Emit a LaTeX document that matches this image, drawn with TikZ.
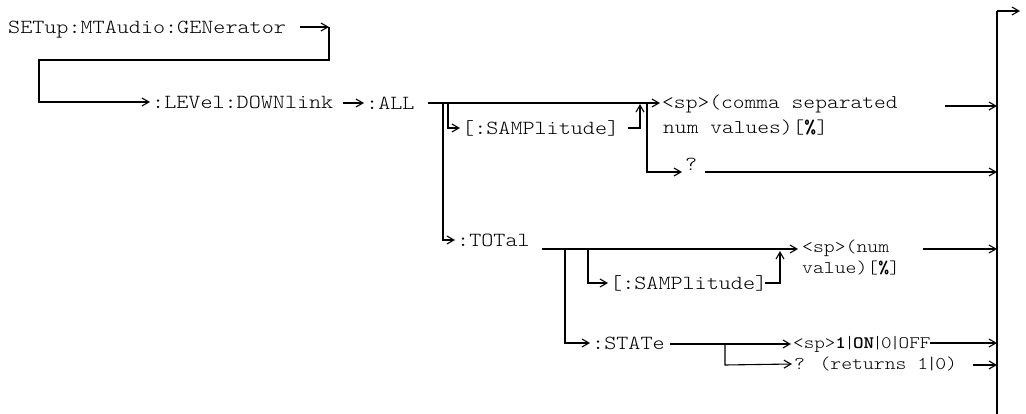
\documentclass[tikz,border=0pt]{standalone}
\usepackage{fontspec}
\usetikzlibrary{arrows.meta}
\newfontfamily\cour[FakeStretch=1.15,BoldFont=lmmonolt10-bold.otf]{lmmonolt10-regular.otf}
\newcommand\pipesym{\makebox[7pt]{|}}
\tikzset{
  lbl/.style={anchor=west, inner xsep=2pt, inner ysep=0pt, text height=12.2pt, text depth=0pt,
              font=\cour\fontsize{20}{24}\selectfont},
  lblmid/.style={lbl, text height=11.9pt, font=\cour\fontsize{19.5}{23}\selectfont},
  lblsmall/.style={lbl, text height=11pt, font=\cour\fontsize{18}{22}\selectfont},
  lblsmaller/.style={lbl, text height=10.7pt, font=\cour\fontsize{17.5}{21}\selectfont},
  ln/.style={line width=1.1pt},
  arr/.style={ln, -{Straight Barb[length=7pt,width=8pt]}},
}
\begin{document}
\begin{tikzpicture}[x=1pt,y=-1pt]
\useasboundingbox (0,0) rectangle (1026,414);
% text nodes
\node[lbl] (setup) at (6,27) {SETup:MTAudio:GENerator};
\node[lbl] (level) at (150,102) {:LEVel:DOWNlink};
\node[lbl] (all) at (364,103) {:ALL};
\node[lbl] (samp1) at (460,128) {[:SAMPlitude]};
\node[lblmid] (comma1) at (660,103) {<sp>(comma separated};
\node[lblmid] (comma2) at (661,128) {num values)[\textbf{\%}]};
\node[lbl] (q1) at (683,164) {?};
\node[lbl] (total) at (455,240) {:TOTal};
\node[lbl] (samp2) at (608,283) {[:SAMPlitude]};
\node[lblsmall] (num1) at (800,247) {<sp>(num};
\node[lblsmall] (num2) at (800,268) {value)[\textbf{\%}]};
\node[lbl] (state) at (590,343) {:STATe};
\node[lblsmaller] (on) at (791,343) {<sp>\textbf{1}\pipesym\textbf{ON}\pipesym 0\pipesym OFF};
\node[lblsmall] (qret) at (792,364) {? (returns 1\pipesym 0)};
% junction coordinates
\coordinate (a1) at (300,27);
\coordinate (a2) at (329,27);
\coordinate (a3) at (329,60);
\coordinate (a4) at (39,60);
\coordinate (a5) at (39,102);
\coordinate (b1) at (343,103);
\coordinate (d1) at (428,103);
\coordinate (e1) at (443,103);
\coordinate (e2) at (443,240);
\coordinate (f1) at (448,103);
\coordinate (f2) at (448,128);
\coordinate (g1) at (628,128);
\coordinate (g2) at (640,128);
\coordinate (g3) at (640,104);
\coordinate (h1) at (647,103);
\coordinate (h2) at (647,172);
\coordinate (h3) at (682,172);
\coordinate (i1) at (705,172);
\coordinate (barTop) at (997,11);
\coordinate (barBot) at (997,414);
\coordinate (topOut) at (1020,11);
\coordinate (j1) at (945,106);
\coordinate (j2) at (997,106);
\coordinate (i2) at (997,172);
\coordinate (l1) at (542,249);
\coordinate (l2) at (798,249);
\coordinate (m1) at (565,249);
\coordinate (m2) at (565,343);
\coordinate (n1) at (588,249);
\coordinate (n2) at (588,283);
\coordinate (o1) at (765,283);
\coordinate (o2) at (780,283);
\coordinate (o3) at (780,251);
\coordinate (p1) at (923,249);
\coordinate (p2) at (997,249);
\coordinate (q1s) at (670,344);
\coordinate (q1e) at (791,344);
\coordinate (r1) at (725,344);
\coordinate (r2) at (725,365);
\coordinate (s1) at (930,343);
\coordinate (s2) at (997,343);
\coordinate (t1) at (973,365);
\coordinate (t2) at (997,365);
% connectors
\draw[arr] (a1) -- (a2);
\draw[arr] (a2) -- (a3) -- (a4) -- (a5) -- (level.west);
\draw[arr] (b1) -- (all.west);
\draw[arr] (d1) -- (comma1.west);
\draw[arr] (e1) -- (e2) -- (total.west);
\draw[arr] (f1) -- (f2) -- (samp1.west);
\draw[arr] (g1) -- (g2) -- (g3);
\draw[arr] (h1) -- (h2) -- (h3);
\draw[arr] (i1) -- (i2);
\draw[arr] (j1) -- (j2);
\draw[ln] (barTop) -- (barBot);
\draw[arr] (barTop) -- (topOut);
\draw[arr] (l1) -- (l2);
\draw[arr] (m1) -- (m2) -- (state.west);
\draw[arr] (n1) -- (n2) -- (samp2.west);
\draw[arr] (o1) -- (o2) -- (o3);
\draw[arr] (p1) -- (p2);
\draw[arr] (q1s) -- (q1e);
\draw[arr] (r1) -- (r2) -- (qret.west);
\draw[arr] (s1) -- (s2);
\draw[arr] (t1) -- (t2);
\end{tikzpicture}
\end{document}
